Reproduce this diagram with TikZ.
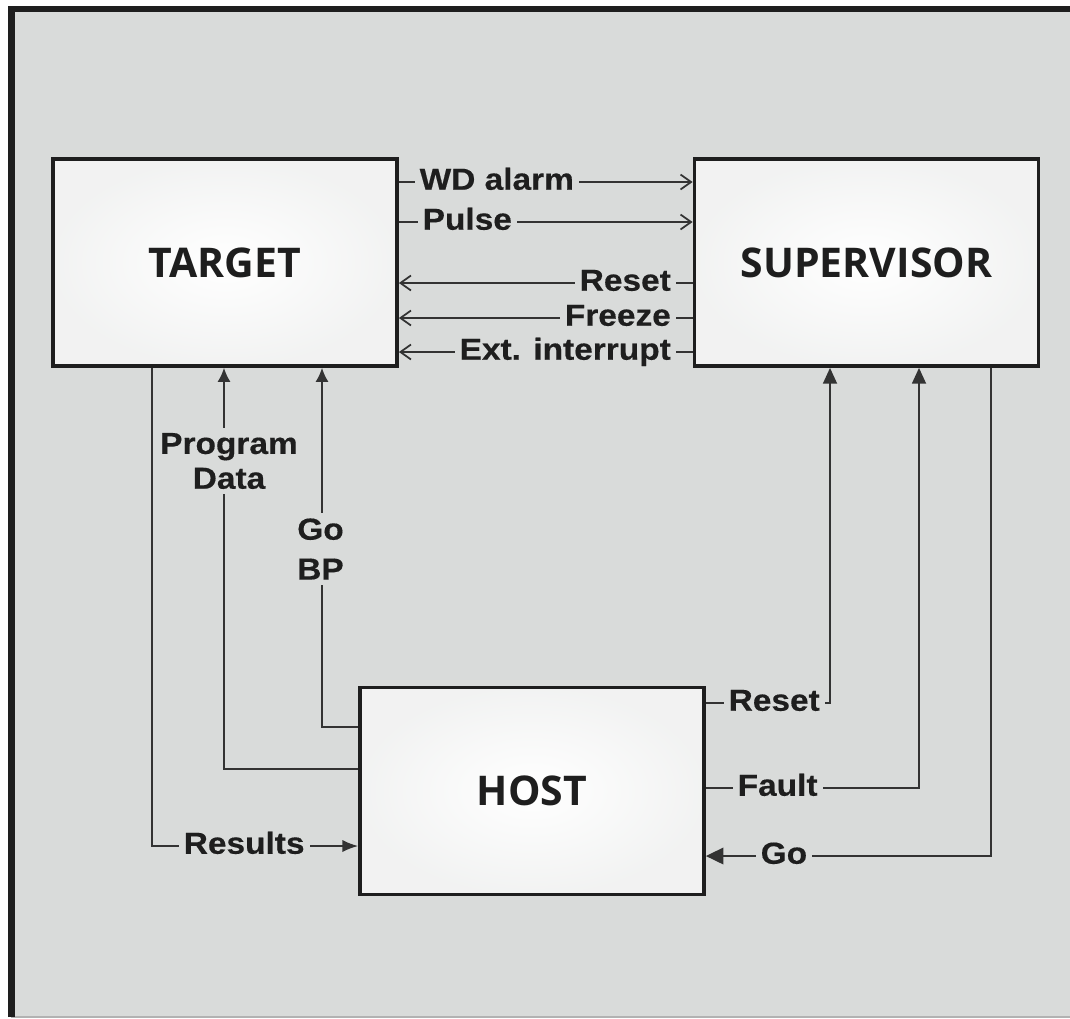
\documentclass[tikz,border=0pt]{standalone}
\usepackage{fontspec}
\newfontfamily\labfont{Liberation Sans}[FakeStretch=1.1,FakeBold=0.4]
\newfontfamily\boxfont{Open Sans}
\usetikzlibrary{arrows.meta}
\definecolor{bgc}{HTML}{D9DBDA}
\definecolor{ln}{HTML}{333333}
\definecolor{txt}{HTML}{1E1E1E}

\begin{document}
\begin{tikzpicture}[x=0.02cm,y=-0.02cm,
  block/.style={draw=txt,line width=2.2pt,shading=radial,inner color=white,outer color=bgc!35,
    minimum width=6.88cm,minimum height=4.14cm,text=txt,font=\boxfont\bfseries\fontsize{23.3}{26}\selectfont},
  sig/.style={draw=ln,line width=0.9pt},
  lab/.style={fill=bgc,inner xsep=0.1cm,inner ysep=0pt,text height=12.5pt,text depth=3.5pt,text=txt,
    font=\labfont\bfseries\fontsize{17.3}{19.8}\selectfont},
  mlab/.style={fill=bgc,inner xsep=0.1cm,inner ysep=0.1cm,align=center,text=txt,
    font=\labfont\bfseries\fontsize{17.3}{19.8}\selectfont},
  barb/.style={-{Straight Barb[length=6pt,width=8.5pt,line width=1pt]}},
  tip/.style={-{Latex[length=8pt,width=7.5pt]}},
  tri/.style={-{Triangle[length=9pt,width=8pt]}}]
\useasboundingbox (0,0) rectangle (1070,1018);
\fill[white] (0,0) rectangle (1070,1018);
\fill[bgc] (11,9) rectangle (1070,1016);
\draw[gray!60,line width=0.04cm] (11,1017) -- (1070,1017);
\draw[txt,line width=0.13cm] (11.5,1017) -- (11.5,9) -- (1070,9);

\node[block] (target) at (225,262.5) {TARGET};
\node[block] (supervisor) at (866.5,262.5) {SUPERVISOR};
\node[block] (host) at (532,791) {HOST};

\coordinate (wd) at (0,182);
\coordinate (pul) at (0,222);
\coordinate (rst) at (0,283);
\coordinate (frz) at (0,318);
\coordinate (ext) at (0,352);
\draw[sig,barb] (target.east |- wd) -- (supervisor.west |- wd)
  node[lab,at start,anchor=base west,xshift=0.3cm,yshift=-4.4pt] (wdlab) {WD alarm};
\draw[sig,barb] (target.east |- pul) -- (supervisor.west |- pul)
  node[lab,at start,anchor=base west,xshift=0.36cm,yshift=-4.4pt] (pullab) {Pulse};
\draw[sig,barb] (supervisor.west |- rst) -- (target.east |- rst)
  node[lab,at start,anchor=base east,xshift=-0.32cm,yshift=-4.4pt] (rstlab) {Reset};
\draw[sig,barb] (supervisor.west |- frz) -- (target.east |- frz)
  node[lab,at start,anchor=base east,xshift=-0.32cm,yshift=-4.4pt] (frzlab) {Freeze};
\draw[sig,barb] (supervisor.west |- ext) -- (target.east |- ext)
  node[lab,at start,anchor=base east,xshift=-0.32cm,yshift=-4.4pt] (extlab) {Ext. interrupt};

\coordinate (prog) at (224,769);
\coordinate (gobp) at (322,727);
\coordinate (res) at (152,846);
\draw[sig,tip] (host.west |- prog) -- (prog) -- (target.south -| prog);
\node[mlab] (proglab) at (229,461) {Program\\Data};
\draw[sig,tip] (host.west |- gobp) -- (gobp) -- (target.south -| gobp);
\node[mlab,font=\labfont\bfseries\fontsize{17.3}{22.7}\selectfont] (gobplab) at (320.5,549) {Go\\BP};
\draw[sig,-{Latex[length=9pt,width=7pt]}] (target.south -| res) -- (res) -- (host.west |- res)
  node[lab,at start,anchor=base west,xshift=0.52cm,yshift=-4.4pt] (reslab) {Results};

\coordinate (hrst) at (830,703);
\coordinate (hflt) at (919,788);
\coordinate (hgo) at (991,856);
\draw[sig,tri] (host.east |- hrst) -- (hrst)
  node[lab,at start,anchor=base west,xshift=0.34cm,yshift=-4.4pt] (hrstlab) {Reset}
  -- (supervisor.south -| hrst);
\draw[sig,tri] (host.east |- hflt) -- (hflt)
  node[lab,at start,anchor=base west,xshift=0.52cm,yshift=-4.4pt] (hfltlab) {Fault}
  -- (supervisor.south -| hflt);
\draw[sig,-{Triangle[length=10pt,width=9.5pt]}] (supervisor.south -| hgo) -- (hgo) -- (host.east |- hgo)
  node[lab,at end,anchor=base west,xshift=0.98cm,yshift=-4.4pt] (hgolab) {Go};
\end{tikzpicture}
\end{document}
